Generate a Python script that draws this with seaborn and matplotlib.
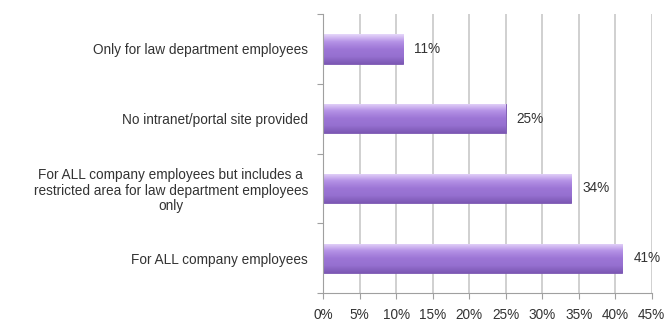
import matplotlib
matplotlib.use("Agg")
import matplotlib.pyplot as plt
import seaborn as sns
import pandas as pd
import numpy as np
from matplotlib.colors import LinearSegmentedColormap

categories = [
    "Only for law department employees",
    "No intranet/portal site provided",
    "For ALL company employees but includes a\nrestricted area for law department employees\nonly",
    "For ALL company employees",
]
values = [11, 25, 34, 41]
value_labels = ["11%", "25%", "34%", "41%"]
x_ticks = [0, 5, 10, 15, 20, 25, 30, 35, 40, 45]
x_tick_labels = ["0%", "5%", "10%", "15%", "20%", "25%", "30%", "35%", "40%", "45%"]

sns.set_theme(style="white")
plt.rcParams['font.family'] = ['Liberation Sans', 'DejaVu Sans']

df = pd.DataFrame({"category": categories, "value": values})

fig = plt.figure(figsize=(6.65, 3.26), dpi=100)
ax = fig.add_axes([0.486, 0.101, 0.494, 0.856])

sns.barplot(data=df, y="category", x="value", orient="h", color="#9b74d2",
            width=0.42, edgecolor="#7a56b0", linewidth=0.6, saturation=1, ax=ax)

ax.set_xlim(0, 45)
ax.set_ylim(3.5, -0.5)

# vertical gradient shading on each bar (clipped to the bar patch)
cmap = LinearSegmentedColormap.from_list(
    "bar", ["#e6d6fa", "#b593e6", "#9d76d6", "#9670d0", "#7c58b4"])
grad = np.linspace(0, 1, 64).reshape(-1, 1)
for p in ax.patches:
    x0, y0 = p.get_x(), p.get_y()
    w, h = p.get_width(), p.get_height()
    im = ax.imshow(grad, cmap=cmap, aspect="auto",
                   extent=(x0, x0 + w, y0 + h, y0), origin="upper", zorder=p.get_zorder())
    im.set_clip_path(p)
ax.set_xlim(0, 45)
ax.set_ylim(3.5, -0.5)

fs = 9.8
ax.set_xticks(x_ticks)
ax.set_xticklabels(x_tick_labels, fontsize=fs, color="#333333")
ax.set_yticks(range(len(categories)))
ax.set_yticklabels(categories, fontsize=fs, color="#333333", linespacing=1.15,
                   multialignment="center")
ax.tick_params(axis="y", length=0, pad=11)
ax.set_yticks([-0.5, 0.5, 1.5, 2.5, 3.5], minor=True)
ax.tick_params(axis="y", which="minor", length=4, color="#a0a0a0", width=0.8, direction="out", left=True)
ax.tick_params(axis="x", length=4, color="#a0a0a0", width=0.8, direction="out", bottom=True, pad=7)
ax.xaxis.grid(True, color="#c8c8c8", linewidth=1.2)
ax.set_axisbelow(True)
ax.set_xlabel("")
ax.set_ylabel("")
for s in ["top", "right"]:
    ax.spines[s].set_visible(False)
for s in ["left", "bottom"]:
    ax.spines[s].set_color("#a0a0a0")
    ax.spines[s].set_linewidth(0.8)

for i, (v, lab) in enumerate(zip(values, value_labels)):
    ax.text(v + 1.5, i, lab, va="center", ha="left", fontsize=fs, color="#333333")

fig.savefig("out.png", dpi=100)
